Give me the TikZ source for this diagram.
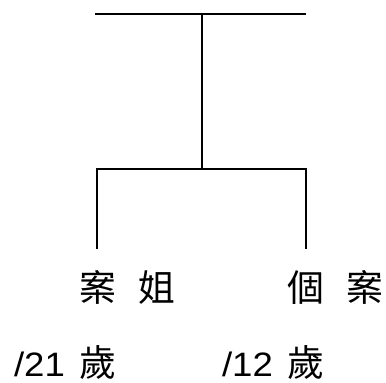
\documentclass[tikz,border=0pt]{standalone}
\usepackage{fontspec}
\setmainfont{Liberation Sans}
\newfontfamily\cjk{Noto Sans CJK TC}
\newfontfamily\agefont[FakeStretch=1.08]{Liberation Sans}
\usetikzlibrary{positioning}

\tikzset{
  line/.style={line width=2bp, line cap=rect},
  label/.style={inner sep=0pt, anchor=base, text depth=0pt, font=\fontsize{37}{40}\selectfont\cjk},
  age/.style={inner sep=0pt, anchor=base, text depth=0pt, font=\fontsize{34}{40}\selectfont\agefont}
}
\newcommand\sui{{\fontsize{37}{40}\selectfont\cjk 歲}}

\begin{document}
\begin{tikzpicture}[x=1bp, y=-1bp]
  \useasboundingbox (0,0) rectangle (386,383);

  % Parents line
  \coordinate (parL) at (96,14);
  \coordinate (parR) at (305,14);
  \coordinate (parM) at (202,14);
  \coordinate (sibM) at (202,169);
  \coordinate (sibL) at (97,169);
  \coordinate (sibR) at (306,169);
  \coordinate (sisEnd) at (97,248);
  \coordinate (caseEnd) at (306,248);

  % Labels
  \node (sis) [label] at (127.5,301) {案\hspace{0.62em}姐};
  \node (case) [label] at (335.5,301) {個\hspace{0.62em}案};
  \node (sisAge) [age] at (65,376) {/21\hspace{0.42em}\sui};
  \node (caseAge) [age] at (273,376) {/12\hspace{0.42em}\sui};

  \draw [line] (parL) -- (parR);
  \draw [line] (parM) -- (sibM);
  \draw [line] (sisEnd) -- (sibL) -- (sibR) -- (caseEnd);
\end{tikzpicture}
\end{document}
